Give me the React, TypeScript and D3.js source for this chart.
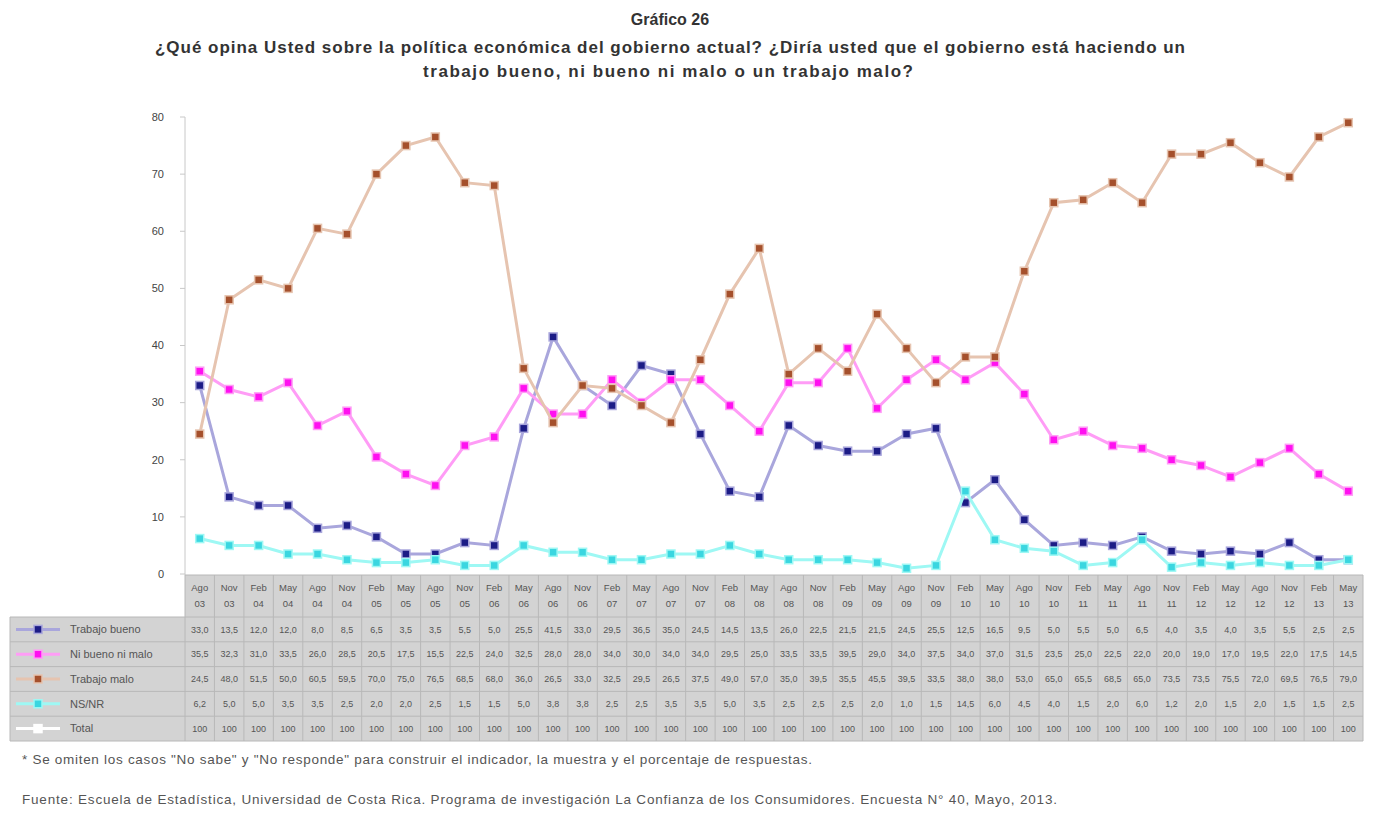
import React from 'react';
import * as d3 from 'd3';

// periodos de la encuesta (mes / año)
const months = [
  'Ago', 'Nov', 'Feb', 'May', 'Ago', 'Nov', 'Feb', 'May', 'Ago', 'Nov',
  'Feb', 'May', 'Ago', 'Nov', 'Feb', 'May', 'Ago', 'Nov', 'Feb', 'May',
  'Ago', 'Nov', 'Feb', 'May', 'Ago', 'Nov', 'Feb', 'May', 'Ago', 'Nov',
  'Feb', 'May', 'Ago', 'Nov', 'Feb', 'May', 'Ago', 'Nov', 'Feb', 'May'
];
const years = [
  '03', '03', '04', '04', '04', '04', '05', '05', '05', '05',
  '06', '06', '06', '06', '07', '07', '07', '07', '08', '08',
  '08', '08', '09', '09', '09', '09', '10', '10', '10', '10',
  '11', '11', '11', '11', '12', '12', '12', '12', '13', '13'
];

const bueno = [
  33, 13.5, 12, 12, 8, 8.5, 6.5, 3.5, 3.5, 5.5,
  5, 25.5, 41.5, 33, 29.5, 36.5, 35, 24.5, 14.5, 13.5,
  26, 22.5, 21.5, 21.5, 24.5, 25.5, 12.5, 16.5, 9.5, 5,
  5.5, 5, 6.5, 4, 3.5, 4, 3.5, 5.5, 2.5, 2.5
];
const niBuenoNiMalo = [
  35.5, 32.3, 31, 33.5, 26, 28.5, 20.5, 17.5, 15.5, 22.5,
  24, 32.5, 28, 28, 34, 30, 34, 34, 29.5, 25,
  33.5, 33.5, 39.5, 29, 34, 37.5, 34, 37, 31.5, 23.5,
  25, 22.5, 22, 20, 19, 17, 19.5, 22, 17.5, 14.5
];
const malo = [
  24.5, 48, 51.5, 50, 60.5, 59.5, 70, 75, 76.5, 68.5,
  68, 36, 26.5, 33, 32.5, 29.5, 26.5, 37.5, 49, 57,
  35, 39.5, 35.5, 45.5, 39.5, 33.5, 38, 38, 53, 65,
  65.5, 68.5, 65, 73.5, 73.5, 75.5, 72, 69.5, 76.5, 79
];
const nsnr = [
  6.2, 5, 5, 3.5, 3.5, 2.5, 2, 2, 2.5, 1.5,
  1.5, 5, 3.8, 3.8, 2.5, 2.5, 3.5, 3.5, 5, 3.5,
  2.5, 2.5, 2.5, 2, 1, 1.5, 14.5, 6, 4.5, 4,
  1.5, 2, 6, 1.2, 2, 1.5, 2, 1.5, 1.5, 2.5
];
const total = [
  100, 100, 100, 100, 100, 100, 100, 100, 100, 100,
  100, 100, 100, 100, 100, 100, 100, 100, 100, 100,
  100, 100, 100, 100, 100, 100, 100, 100, 100, 100,
  100, 100, 100, 100, 100, 100, 100, 100, 100, 100
];
const yTicks = [0, 10, 20, 30, 40, 50, 60, 70, 80];

const series = [
  { name: 'Trabajo bueno', values: bueno, line: '#a9a6dc', mark: '#1c1c86', plot: true },
  { name: 'Ni bueno ni malo', values: niBuenoNiMalo, line: '#ff9cf6', mark: '#ff10f0', plot: true },
  { name: 'Trabajo malo', values: malo, line: '#e6c4b0', mark: '#a5502c', plot: true },
  { name: 'NS/NR', values: nsnr, line: '#9ef8f4', mark: '#3ad6e0', plot: true },
  { name: 'Total', values: total, line: '#ffffff', mark: '#ffffff', plot: false }
];

const W = 1374;
const H = 825;
const plotLeft = 185;
const plotRight = 1363;
const plotTop = 117;
const plotBottom = 574;
const tableTop = 575;
const headerH = 42;
const rowH = 24.8;
const legendLeft = 10;
const font = '"Liberation Sans", Arial, sans-serif';

const fmt = (v: number) => (Number.isInteger(v) && v >= 100 ? String(v) : v.toFixed(1).replace('.', ','));

const App: React.FC = () => {
  const periods = months.map((m, i) => `${m} ${years[i]} #${i}`);
  const x = d3.scaleBand<string>().domain(periods).range([plotLeft, plotRight]);
  const bw = x.bandwidth();
  const cx = (i: number) => (x(periods[i]) as number) + bw / 2;
  const y = d3.scaleLinear().domain([0, 80]).range([plotBottom, plotTop]);
  const line = d3.line<number>()
    .x((_, i) => cx(i))
    .y(d => y(d));

  const rowsTop = tableTop + headerH;
  const tableBottom = rowsTop + rowH * series.length;

  return (
    <svg width={W} height={H} style={{ position: 'absolute', left: 0, top: 0, background: '#fff' }} fontFamily={font}>
      {/* títulos */}
      <text x={670} y={25} textAnchor="middle" fontSize={16} fontWeight="bold" fill="#333">Gráfico 26</text>
      <text x={670} y={53} textAnchor="middle" fontSize={17} fontWeight="bold" fill="#333" textLength={1030} lengthAdjust="spacing">
        ¿Qué opina Usted sobre la política económica del gobierno actual? ¿Diría usted que el gobierno está haciendo un
      </text>
      <text x={668} y={77} textAnchor="middle" fontSize={17} fontWeight="bold" fill="#333" textLength={490} lengthAdjust="spacing">
        trabajo bueno, ni bueno ni malo o un trabajo malo?
      </text>

      {/* eje y */}
      <line x1={plotLeft} x2={plotLeft} y1={plotTop} y2={tableTop} stroke="#c8c8c8" />
      {yTicks.map(t => (
        <g key={t}>
          <line x1={plotLeft - 5} x2={plotLeft} y1={y(t)} y2={y(t)} stroke="#c8c8c8" />
          <text x={164} y={y(t)} dy="0.35em" textAnchor="end" fontSize={11} fill="#444">{t}</text>
        </g>
      ))}

      {/* series */}
      <defs>
        <clipPath id="plotClip">
          <rect x={plotLeft} y={plotTop - 6} width={plotRight - plotLeft} height={plotBottom - plotTop + 6} />
        </clipPath>
      </defs>
      <g clipPath="url(#plotClip)">
        {series.filter(s => s.plot).map(s => (
          <g key={s.name}>
            <path d={line(s.values) || ''} fill="none" stroke={s.line} strokeWidth={3} />
            {s.values.map((v, i) => (
              <rect key={i} x={cx(i) - 4} y={y(v) - 4} width={8} height={8} fill={s.mark} stroke={s.line} strokeWidth={1.5} />
            ))}
          </g>
        ))}
      </g>

      {/* tabla de datos */}
      <rect x={plotLeft} y={tableTop} width={plotRight - plotLeft} height={tableBottom - tableTop} fill="#d3d3d3" />
      <rect x={legendLeft} y={rowsTop} width={plotLeft - legendLeft} height={tableBottom - rowsTop} fill="#d3d3d3" />
      {periods.map((p, i) => (
        <g key={p}>
          <line x1={x(p) as number} x2={x(p) as number} y1={tableTop} y2={tableBottom} stroke="#b8b8b8" />
          <text x={cx(i)} y={tableTop + 16} textAnchor="middle" fontSize={9.5} fill="#555">{months[i]}</text>
          <text x={cx(i)} y={tableTop + 32} textAnchor="middle" fontSize={9.5} fill="#555">{years[i]}</text>
        </g>
      ))}
      <line x1={plotRight} x2={plotRight} y1={tableTop} y2={tableBottom} stroke="#b8b8b8" />
      <line x1={legendLeft} x2={legendLeft} y1={rowsTop} y2={tableBottom} stroke="#b8b8b8" />
      {series.map((s, r) => {
        const top = rowsTop + r * rowH;
        const mid = top + rowH / 2;
        return (
          <g key={s.name}>
            <line x1={legendLeft} x2={plotRight} y1={top} y2={top} stroke="#b8b8b8" />
            <line x1={legendLeft + 6} x2={legendLeft + 50} y1={mid} y2={mid} stroke={s.line} strokeWidth={3} />
            <rect x={legendLeft + 24} y={mid - 4} width={8} height={8} fill={s.mark} stroke={s.line} strokeWidth={1.5} />
            <text x={legendLeft + 60} y={mid} dy="0.35em" fontSize={11} fill="#555">{s.name}</text>
            {s.values.map((v, i) => (
              <text key={i} x={cx(i)} y={mid} dy="0.35em" textAnchor="middle" fontSize={9} fill="#555">{fmt(v)}</text>
            ))}
          </g>
        );
      })}
      <line x1={legendLeft} x2={plotRight} y1={tableBottom} y2={tableBottom} stroke="#b8b8b8" />
      <line x1={plotLeft} x2={plotRight} y1={tableTop} y2={tableTop} stroke="#b8b8b8" />

      {/* notas */}
      <text x={22} y={764} fontSize={13.5} fill="#555" textLength={790} lengthAdjust="spacing">
        * Se omiten los casos "No sabe" y "No responde" para construir el indicador, la muestra y el porcentaje de respuestas.
      </text>
      <text x={22} y={804} fontSize={13.5} fill="#555" textLength={1035} lengthAdjust="spacing">
        Fuente: Escuela de Estadística, Universidad de Costa Rica. Programa de investigación La Confianza de los Consumidores. Encuesta N° 40, Mayo, 2013.
      </text>
    </svg>
  );
};

export default App;
